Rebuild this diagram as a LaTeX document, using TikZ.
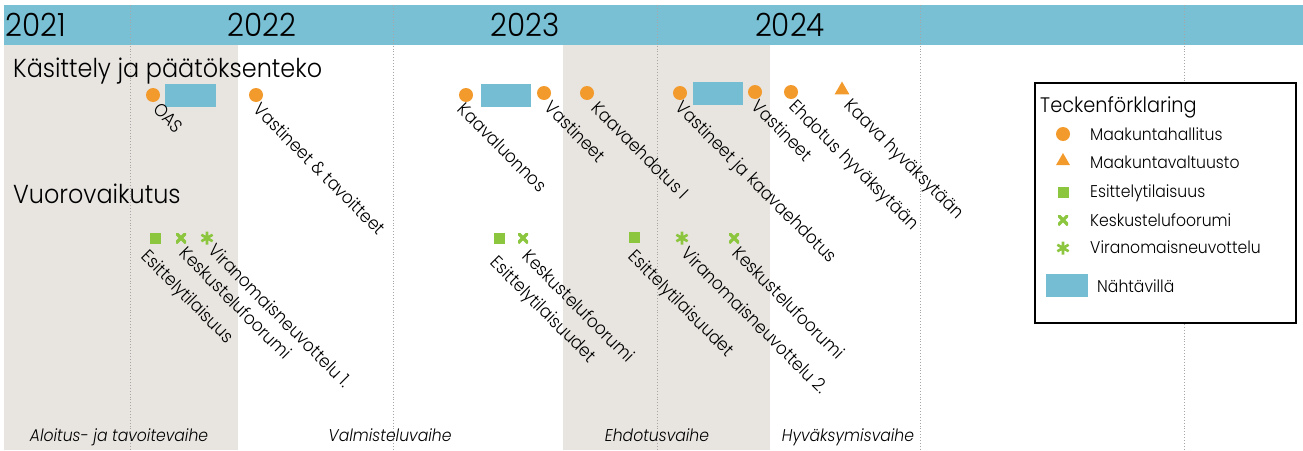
\documentclass[tikz,border=0pt]{standalone}
\usepackage{fontspec}
\setmainfont{Poppins}[FakeStretch=0.92, UprightFont={* Light}, ItalicFont={* Light Italic}]
\usetikzlibrary{shapes.geometric}
\definecolor{barblue}{HTML}{79C0D4}
\definecolor{nblue}{HTML}{74BDD3}
\definecolor{morange}{HTML}{F39A2C}
\definecolor{mgreen}{HTML}{8CC63F}
\definecolor{band}{HTML}{E8E5E1}
\tikzset{
  mc/.style={circle, fill=morange, minimum size=14pt, inner sep=0},
  mt/.style={regular polygon, regular polygon sides=3, fill=morange, minimum size=17pt, inner sep=0},
  ms/.style={rectangle, fill=mgreen, minimum size=11pt, inner sep=0},
  mx/.style={rectangle, minimum size=10pt, inner sep=0, path picture={
      \draw[mgreen, line width=3.2pt] (path picture bounding box.north west) -- (path picture bounding box.south east)
        (path picture bounding box.north east) -- (path picture bounding box.south west);}},
  ma/.style={circle, minimum size=15pt, inner sep=0, path picture={
      \draw[mgreen, line width=2.6pt]
        ([shift={(90:6.5pt)}]path picture bounding box.center) -- ([shift={(270:6.5pt)}]path picture bounding box.center)
        ([shift={(30:6.5pt)}]path picture bounding box.center) -- ([shift={(210:6.5pt)}]path picture bounding box.center)
        ([shift={(150:6.5pt)}]path picture bounding box.center) -- ([shift={(330:6.5pt)}]path picture bounding box.center);}},
  nrect/.style={rectangle, fill=nblue, inner sep=0, anchor=north west, minimum width=#1, minimum height=22.5pt},
  lbl/.style={rotate=-45, anchor=north west, inner sep=0, font=\fontsize{18}{20}\selectfont},
  yr/.style={anchor=base, inner sep=0, font=\fontsize{32}{34}\selectfont},
  head/.style={anchor=base west, inner sep=0, font=\fontsize{26}{28}\selectfont},
  phase/.style={anchor=base, inner sep=0, font=\itshape\fontsize{17}{19}\selectfont},
  legt/.style={anchor=base west, inner sep=0, font=\fontsize{17}{19}\selectfont},
  grid/.style={gray!70, line width=0.9pt, dotted},
}
\begin{document}
\begin{tikzpicture}[x=1pt, y=-1pt]
\useasboundingbox (0,0) rectangle (1303,450);
\fill[white] (0,0) rectangle (1303,450);
% phase bands
\fill[band] (4,45) rectangle (238,450);
\fill[band] (563,45) rectangle (770,450);
% top bar
\fill[barblue] (4,5) rectangle (1303,45);
% grid lines
\foreach \gx in {130,393,657,920,1184} \draw[grid] (\gx,5) -- (\gx,450);
% years
\node[yr, anchor=base west] (y2021) at (5,36) {2021};
\node[yr] (y2022) at (262,36) {2022};
\node[yr] (y2023) at (525,36) {2023};
\node[yr] (y2024) at (790,36) {2024};
% headings
\node[head] (h1) at (13,77) {Käsittely ja päätöksenteko};
\node[head] (h2) at (13,203) {Vuorovaikutus};
% legend
\draw[line width=1.6pt, fill=white] (1035,83) rectangle (1296,323);
\node[anchor=base west, inner sep=0, font=\fontsize{21}{23}\selectfont] (lt) at (1040,112) {Teckenförklaring};
\node[mc] (lc) at (1063,134) {};
\node[legt] (lct) at (1090,140) {Maakuntahallitus};
\node[mt, minimum size=16pt] (ltr) at (1063,161) {};
\node[legt] (ltrt) at (1090,168) {Maakuntavaltuusto};
\node[ms] (lsq) at (1063,192) {};
\node[legt] (lsqt) at (1090,197) {Esittelytilaisuus};
\node[mx] (lx) at (1063,220) {};
\node[legt] (lxt) at (1090,226) {Keskustelufoorumi};
\node[ma] (la) at (1063,248) {};
\node[legt] (lat) at (1090,253) {Viranomaisneuvottelu};
\node[nrect=42pt, minimum height=23pt] (lr) at (1046,274) {};
\node[legt] (lrt) at (1097,292) {Nähtävillä};
% row 1 markers
\node[mc] (c1) at (153,95) {};
\node[nrect=51pt] (r1) at (165,84) {};
\node[mc] (c2) at (256,95) {};
\node[mc] (c3) at (466,95) {};
\node[nrect=50pt] (r2) at (481,84) {};
\node[mc] (c4) at (544,93) {};
\node[mc] (c5) at (587,93) {};
\node[mc] (c6) at (680,93) {};
\node[nrect=50pt] (r3) at (693,82) {};
\node[mc] (c7) at (755,92) {};
\node[mc] (c8) at (791,92) {};
\node[mt] (t1) at (842,90) {};
% row 1 labels
\node[lbl] (l1) at (161,101) {OAS};
\node[lbl] (l2) at (262,101) {Vastineet \& tavoitteet};
\node[lbl] (l3) at (466,101) {Kaavaluonnos};
\node[lbl] (l4) at (553,99) {Vastineet};
\node[lbl] (l5) at (600,100) {Kaavaehdotus I};
\node[lbl] (l6) at (684,99) {Vastineet ja kaavaehdotus};
\node[lbl] (l7) at (760,98) {Vastineet};
\node[lbl] (l8) at (798,98) {Ehdotus hyväksytään};
\node[lbl] (l9) at (853,97) {Kaava hyväksytään};
% row 2 markers
\node[ms] (s1) at (155,238) {};
\node[mx] (x1) at (181,238) {};
\node[ma] (a1) at (207,238) {};
\node[ms] (s2) at (499,238) {};
\node[mx] (x2) at (523,238) {};
\node[ms] (s3) at (634,237) {};
\node[ma] (a2) at (682,238) {};
\node[mx] (x3) at (734,238) {};
% row 2 labels
\node[lbl] (m1) at (150,248) {Esittelytilaisuus};
\node[lbl] (m2) at (188,245) {Keskustelufoorumi};
\node[lbl] (m3) at (217,242) {Viranomaisneuvottelu 1.};
\node[lbl] (m4) at (499,254) {Esittelytilaisuudet};
\node[lbl] (m5) at (531,248) {Keskustelufoorumi};
\node[lbl] (m6) at (637,248) {Esittelytilaisuudet};
\node[lbl] (m7) at (690,245) {Viranomaisneuvottelu 2.};
\node[lbl] (m8) at (741,245) {Keskustelufoorumi};
% phases
\node[phase] (p1) at (119,441) {Aloitus- ja tavoitevaihe};
\node[phase] (p2) at (390,441) {Valmisteluvaihe};
\node[phase] (p3) at (657,441) {Ehdotusvaihe};
\node[phase] (p4) at (848,441) {Hyväksymisvaihe};
\end{tikzpicture}
\end{document}
